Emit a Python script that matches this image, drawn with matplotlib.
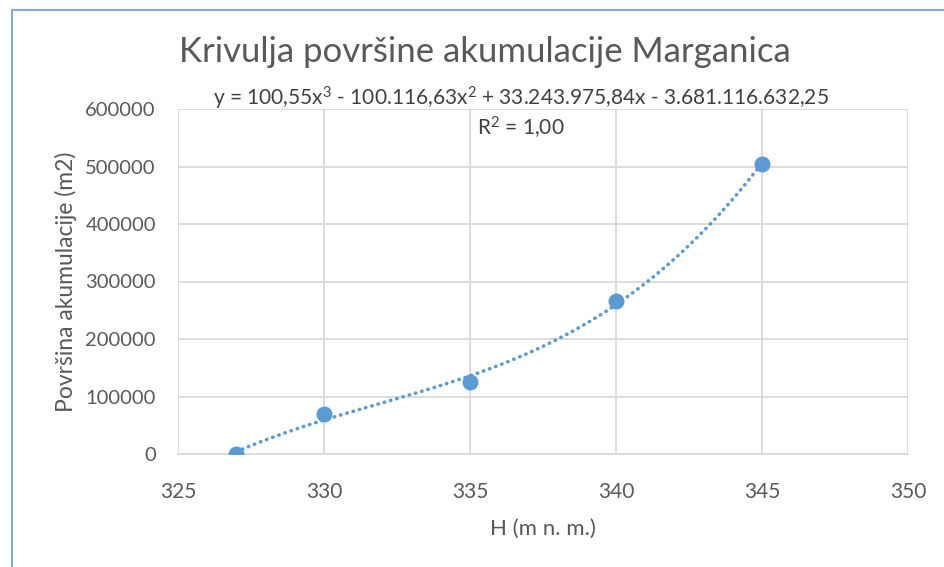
import numpy as np
import matplotlib.pyplot as plt
from matplotlib.patches import Rectangle

# podaci
kote = [327, 330, 335, 340, 345]
povrsina = [0, 69000, 124700, 266600, 504300]
x_ticks = [325, 330, 335, 340, 345, 350]
y_ticks = [0, 100000, 200000, 300000, 400000, 500000, 600000]

plt.rcParams['font.family'] = ['Lato', 'DejaVu Sans']
plt.rcParams['mathtext.fontset'] = 'custom'
plt.rcParams['mathtext.rm'] = 'Lato'
plt.rcParams['mathtext.it'] = 'Lato'
plava = '#5B9BD5'
siva = '#595959'

fig = plt.figure(figsize=(9.45, 5.67), dpi=100)
ax = fig.add_axes([178/945, 1-454/567, (908-178)/945, (454-109)/567])

# trend linija (polinom 3. reda)
koef = np.polyfit(kote, povrsina, 3)
xx = np.linspace(min(kote), max(kote), 300)
ax.plot(xx, np.polyval(koef, xx), color=plava, lw=2.6, linestyle=(0, (0.1, 1.7)),
        dash_capstyle='round', zorder=3)
ax.plot(kote, povrsina, 'o', color=plava, markersize=10.5, zorder=4)

ax.set_xlim(325, 350)
ax.set_ylim(0, 600000)
ax.set_xticks(x_ticks)
ax.set_yticks(y_ticks)
ax.set_yticklabels([str(v) for v in y_ticks])
ax.grid(True, color='#d9d9d9', lw=1.3)
ax.set_axisbelow(True)
for s in ax.spines.values():
    s.set_visible(False)
ax.spines['bottom'].set_visible(True)
ax.spines['bottom'].set_color('#d9d9d9')
ax.spines['bottom'].set_linewidth(1.3)
ax.tick_params(length=0, colors=siva)
ax.tick_params(axis='x', pad=20, labelsize=15)
ax.tick_params(axis='y', pad=16, labelsize=14.5)

ax.set_xlabel('H (m n. m.)', fontsize=16, color=siva, labelpad=12)
ax.set_ylabel('Površina akumulacije (m2)', fontsize=16.5, color=siva, labelpad=6)

fig.text(485/945, 1-52/567, 'Krivulja površine akumulacije Marganica', ha='center', va='center',
         fontsize=25, color=siva)
fig.text(521/945, 1-98/567, 'y = 100,55x$^3$ - 100.116,63x$^2$ + 33.243.975,84x - 3.681.116.632,25',
         ha='center', va='center', fontsize=15, color='#404040')
fig.text(521/945, 1-128/567, 'R$^2$ = 1,00', ha='center', va='center', fontsize=15, color='#404040')

# okvir grafikona
fig.patches.append(Rectangle((12/945, -0.1), 1.2, 1-10/567+0.1, transform=fig.transFigure,
                             fill=False, edgecolor='#7FAEDB', lw=1.5))

fig.savefig('out.png', dpi=100)
